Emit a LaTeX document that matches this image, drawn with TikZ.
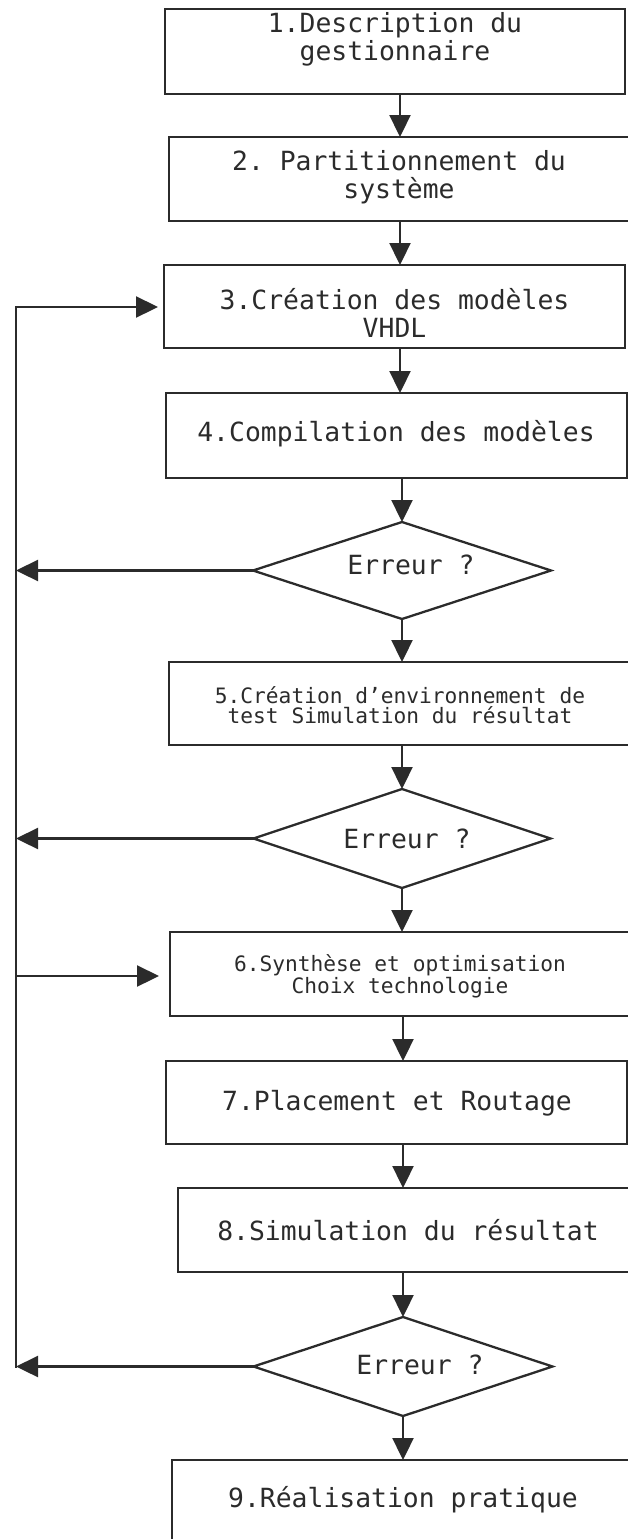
\documentclass[tikz,border=0pt]{standalone}
\usepackage{fontspec}
\setmonofont{DejaVu Sans Mono}
\usetikzlibrary{arrows.meta,shapes.geometric}

\definecolor{ink}{HTML}{2B2B2B}

\tikzset{
  stepbox/.style={draw=ink, line width=2.3pt, rectangle, inner sep=0pt, outer sep=0pt},
  choice/.style={draw=ink, line width=2.3pt, diamond, inner sep=0pt, outer sep=0pt},
  bigtxt/.style={text=ink, align=center, inner sep=0pt,
    font={\ttfamily\fontsize{26.4}{27.5}\selectfont}},
  smalltxt/.style={text=ink, align=center, inner sep=0pt,
    font={\ttfamily\fontsize{21.2}{20.5}\selectfont}},
  flow/.style={draw=ink, line width=2.3pt, -{Triangle[length=22pt,width=21pt]}},
  plain/.style={draw=ink, line width=2.3pt},
}

\begin{document}
\begin{tikzpicture}[x=1pt, y=-1pt]
\useasboundingbox (0,0) rectangle (628,1539);

% process boxes (centre, width, height)
\node[stepbox, minimum width=460pt, minimum height=85pt] (b1) at (395,51.5) {};
\node[stepbox, minimum width=461pt, minimum height=84pt] (b2) at (399.5,179) {};
\node[stepbox, minimum width=461pt, minimum height=83pt] (b3) at (394.5,306.5) {};
\node[stepbox, minimum width=461pt, minimum height=85pt] (b4) at (396.5,435.5) {};
\node[stepbox, minimum width=461pt, minimum height=83pt] (b5) at (399.5,703.5) {};
\node[stepbox, minimum width=460pt, minimum height=84pt] (b6) at (400,974) {};
\node[stepbox, minimum width=461pt, minimum height=83pt] (b7) at (396.5,1102.5) {};
\node[stepbox, minimum width=452pt, minimum height=84pt] (b8) at (404,1230) {};
\node[stepbox, minimum width=458pt, minimum height=90pt] (b9) at (401,1505) {};

% decision diamonds
\node[choice, minimum width=298pt, minimum height=97pt] (d1) at (402,570.5) {};
\node[choice, minimum width=297pt, minimum height=99pt] (d2) at (402,838.5) {};
\node[choice, minimum width=299pt, minimum height=99pt] (d3) at (403,1366.5) {};

% labels
\node[bigtxt] (t1) at (395,39.5) {1.Description du\\gestionnaire};
\node[bigtxt] (t2) at (399,177) {2. Partitionnement du\\système};
\node[bigtxt] (t3) at (394.5,313) {3.Création des modèles\\VHDL};
\node[bigtxt] (t4) at (396,434) {4.Compilation des modèles};
\node[bigtxt] (q1) at (411,565) {Erreur ?};
\node[smalltxt] (t5) at (400,705) {5.Création d’environnement de\\test Simulation du résultat};
\node[bigtxt] (q2) at (407,839) {Erreur ?};
\node[smalltxt] (t6) at (400,976) {6.Synthèse et optimisation\\Choix technologie};
\node[bigtxt] (t7) at (397,1103) {7.Placement et Routage};
\node[bigtxt] (t8) at (408,1230) {8.Simulation du résultat};
\node[bigtxt] (q3) at (420,1365) {Erreur ?};
\node[bigtxt] (t9) at (403,1500) {9.Réalisation pratique};

% main column and the feedback rail
\coordinate (col) at (400,0);
\coordinate (railtop) at (16,307);
\coordinate (railbot) at (16,1366.5);

\draw[flow] (b1.south -| col) -- (b2.north -| col);
\draw[flow] (b2.south -| col) -- (b3.north -| col);
\draw[flow] (b3.south -| col) -- (b4.north -| col);
\draw[flow] (b4.south -| d1.north) -- (d1.north);
\draw[flow] (d1.south) -- (b5.north -| d1.south);
\draw[flow] (b5.south -| d2.north) -- (d2.north);
\draw[flow] (d2.south) -- (b6.north -| d2.south);
\draw[flow] (b6.south -| d3.north) -- (b7.north -| d3.north);
\draw[flow] (b7.south -| d3.north) -- (b8.north -| d3.north);
\draw[flow] (b8.south -| d3.north) -- (d3.north);
\draw[flow] (d3.south) -- (b9.north -| d3.south);

% error returns
\draw[flow] (d1.west) -- (d1.west -| railtop);
\draw[flow] (d2.west) -- (d2.west -| railtop);
\draw[flow] (d3.west) -- (railbot);
\draw[plain, line cap=rect] (railbot) -- (railtop);
\draw[flow, shorten >=6pt] (railtop) -- (b3.west |- railtop);
\draw[flow, shorten >=11pt] (railtop |- 0,976) -- (b6.west |- 0,976);
\end{tikzpicture}
\end{document}
